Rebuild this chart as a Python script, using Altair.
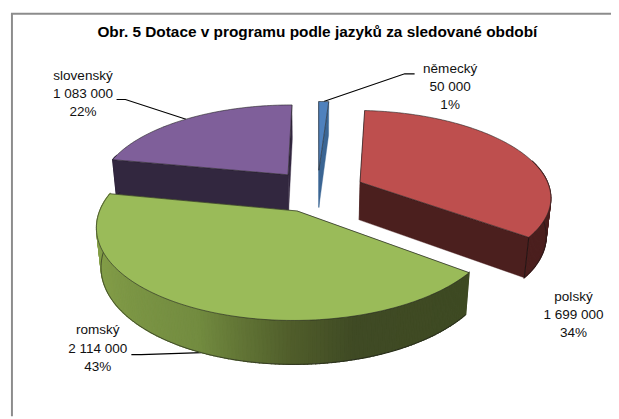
import math
import altair as alt

languages = ["německý", "polský", "romský", "slovenský"]
amounts = [50000, 1699000, 2114000, 1083000]
percents = [1, 34, 43, 22]
amount_labels = ["50 000", "1 699 000", "2 114 000", "1 083 000"]
top_colors = ["#4F81BD", "#BE4F4E", "#9ABB59", "#7F5F9A"]
side_colors = ["#3B6593", "#4B1F1E", None, "#32273F"]
green_rim_stops = [(120, "#3E4A22"), (165, "#3F4A24"), (180, "#4F5C2A"), (205, "#738C40"), (260, "#87A24A"), (290, "#8CA84C")]
title_text = "Obr. 5 Dotace v programu podle jazyků za sledované období"

# 3D pie camera model (screen pixels minus the 8px page margin)
CX, CY = 313.5, 182.5
A, B, D = 193.0, 86.5, 39.5
Q, RZ, EXPLODE = 0.156, 0.02, 0.25


def project(u, v, z):
    w = 1 + Q * v + RZ * z
    return [CX + A * u / w, CY + (-B * v + D * z) / w]


def hex_mix(c1, c2, t):
    a = [int(c1[i:i + 2], 16) for i in (1, 3, 5)]
    b = [int(c2[i:i + 2], 16) for i in (1, 3, 5)]
    return "#%02x%02x%02x" % tuple(round(x + (y - x) * t) for x, y in zip(a, b))


def rim_color(deg):
    for (d1, c1), (d2, c2) in zip(green_rim_stops, green_rim_stops[1:]):
        if d1 <= deg <= d2:
            return hex_mix(c1, c2, (deg - d1) / (d2 - d1))
    return green_rim_stops[-1][1]


def feat(kind, coords, fill, stroke, sw):
    geometry = {"type": kind, "coordinates": [coords] if kind == "Polygon" else coords}
    return {"type": "Feature", "geometry": geometry,
            "properties": {"fill": fill, "stroke": stroke, "sw": sw}}


total = sum(amounts)
spans = []
start = 0.0
for value in amounts:
    end = start + value / total * 360
    spans.append((start, end))
    start = end


def apex(i):
    mid = math.radians(sum(spans[i]) / 2)
    return EXPLODE * math.sin(mid), EXPLODE * math.cos(mid)


def rim(i, deg):
    ax, ay = apex(i)
    t = math.radians(deg)
    return ax + math.sin(t), ay + math.cos(t)


def slice_features(i):
    s, e = spans[i]
    ax, ay = apex(i)
    steps = max(4, int((e - s) / 1.0))
    degs = [s + (e - s) * k / steps for k in range(steps + 1)]
    faces = []
    for d1, d2 in zip(degs, degs[1:]):
        if math.cos(math.radians((d1 + d2) / 2)) > 0.25:
            continue
        p, q = rim(i, d1), rim(i, d2)
        col = side_colors[i] or rim_color((d1 + d2) / 2)
        faces.append(((p[1] + q[1]) / 2, feat("Polygon", [project(*p, 0), project(*q, 0), project(*q, 1), project(*p, 1), project(*p, 0)], col, col, 1.2)))
    for deg in (s, e):
        p = rim(i, deg)
        col = side_colors[i] or rim_color(deg)
        faces.append(((p[1] + ay) / 2, feat("Polygon", [project(ax, ay, 0), project(*p, 0), project(*p, 1), project(ax, ay, 1), project(ax, ay, 0)], col, col, 0.4)))
    faces.sort(key=lambda f: -f[0])
    out = [f[1] for f in faces]
    front = [d for d in degs if math.cos(math.radians(d)) < 0.25]
    if len(front) > 1:
        out.append(feat("LineString", [project(*rim(i, d), 1) for d in front], "none", "#1a1a1a", 0.6))
    if i == 1:
        out.append(feat("LineString", [project(*rim(i, e), 0), project(*rim(i, e), 1)], "none", "#111111", 0.7))
    top = [project(ax, ay, 0)] + [project(*rim(i, d), 0) for d in degs] + [project(ax, ay, 0)]
    out.append(feat("Polygon", top, top_colors[i], "#222222", 0.6))
    return out


def leader(i, z, elbow_dx, label_edge):
    mid = sum(spans[i]) / 2
    p = project(*rim(i, mid), z)
    return [p, [label_edge + elbow_dx, label_edge_y[i]], [label_edge, label_edge_y[i]]]


# where each leader meets its label (screen pixels minus margin)
label_edge_y = {0: 64.0, 2: 348.5, 3: 90.0}

features = []
features.append(feat("LineString", leader(3, 0, 9, 110), "none", "#000000", 1.1))
features.append(feat("LineString", leader(0, 0, -10, 412), "none", "#000000", 1.1))
features.append(feat("LineString", leader(2, 1, 10, 125), "none", "#000000", 1.1))
for idx in (3, 0, 1, 2):
    features.extend(slice_features(idx))

pie = alt.Chart(alt.Data(values=features)).mark_geoshape().project(
    type="identity", scale=1, translate=[0, 0]
).encode(
    fill=alt.Fill("properties.fill:N", scale=None),
    stroke=alt.Stroke("properties.stroke:N", scale=None),
    strokeWidth=alt.StrokeWidth("properties.sw:Q", scale=None),
)

frame_top = alt.Chart(alt.Data(values=[{"a": 0}])).mark_rule(color="#8c8c8c", strokeWidth=2).encode(
    x=alt.value(3), x2=alt.value(611), y=alt.value(3)
)
frame_left = alt.Chart(alt.Data(values=[{"a": 0}])).mark_rule(color="#8c8c8c", strokeWidth=2).encode(
    x=alt.value(4), y=alt.value(3), y2=alt.value(411)
)

label_anchor = {0: (448, 52), 1: (573, 283), 2: (91, 317), 3: (76, 59)}
label_layers = []
for i in range(4):
    text = f"{languages[i]}\n{amount_labels[i]}\n{percents[i]}%"
    x, y = label_anchor[i]
    label_layers.append(
        alt.Chart(alt.Data(values=[{"t": text}])).mark_text(
            font="Liberation Sans", fontSize=13.7, color="#111111", align="center",
            baseline="top", lineBreak="\n", lineHeight=18.5
        ).encode(text="t:N", x=alt.value(x), y=alt.value(y))
    )

chart = alt.layer(frame_top, frame_left, pie, *label_layers).properties(
    width=611, height=411, padding=0,
    autosize=alt.AutoSizeParams(type="none"),
    background="white",
    title=alt.TitleParams(
        title_text, font="Liberation Sans", fontSize=15.6, fontWeight="bold",
        color="#000000", anchor="middle", offset=-30, dx=8
    ),
).configure_view(stroke=None)

chart.save("out.html", embed_options={"renderer": "svg", "actions": False})
